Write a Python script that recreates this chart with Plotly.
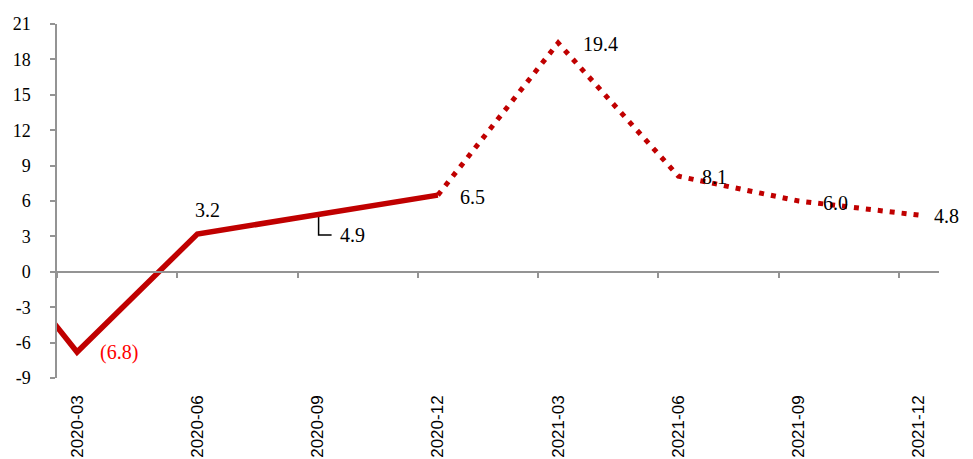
import plotly.graph_objects as go

# ---- data ----
categories = ["2020-03", "2020-06", "2020-09", "2020-12",
              "2021-03", "2021-06", "2021-09", "2021-12"]
prev_category = "2019-12"
actual_cats = ["2019-12", "2020-03", "2020-06", "2020-09", "2020-12"]
actual_vals = [6.0, -6.8, 3.2, 4.9, 6.5]
forecast_cats = ["2020-12", "2021-03", "2021-06", "2021-09", "2021-12"]
forecast_vals = [6.5, 19.4, 8.1, 6.0, 4.8]
label_texts = {"2020-03": "(6.8)", "2020-06": "3.2", "2020-09": "4.9",
               "2020-12": "6.5", "2021-03": "19.4", "2021-06": "8.1",
               "2021-09": "6.0", "2021-12": "4.8"}
label_values = {"2020-03": -6.8, "2020-06": 3.2, "2020-09": 4.9,
                "2020-12": 6.5, "2021-03": 19.4, "2021-06": 8.1,
                "2021-09": 6.0, "2021-12": 4.8}
y_ticks = list(range(-9, 22, 3))
y_tick_text = [str(v) for v in y_ticks]

# month-based positions: each quarter-end month point sits mid-month
all_cats = [prev_category] + categories
def pos(cat):
    return (all_cats.index(cat) - 1) * 3 + 0.5

tick_marks = [i * 3 for i in range(len(categories))]
x_range = [0, len(categories) * 3 - 2]
y_range = [-9, 21]

RED = "#C00000"
GREY = "#949494"
SERIF = "Liberation Serif"
SANS = "Liberation Sans"

fig = go.Figure()
fig.add_trace(go.Scatter(
    x=[pos(c) for c in actual_cats], y=actual_vals, mode="lines",
    line=dict(color=RED, width=5.5), xaxis="x", yaxis="y",
    showlegend=False, hoverinfo="skip"))
fig.add_trace(go.Scatter(
    x=[pos(c) for c in forecast_cats], y=forecast_vals, mode="lines",
    line=dict(color=RED, width=5, dash="5px,7px"), xaxis="x2", yaxis="y",
    showlegend=False, hoverinfo="skip"))

# label offsets (pixels) — style only
offsets = {"2020-03": (42, 0), "2020-06": (10, 24), "2020-09": (35, -21),
           "2020-12": (35, -2), "2021-03": (42, -1), "2021-06": (36, -1),
           "2021-09": (37, -2), "2021-12": (28, -1)}
annotations = []
for c in categories:
    dx, dy = offsets[c]
    color = "#FF0000" if label_values[c] < 0 else "black"
    annotations.append(dict(
        x=pos(c), y=label_values[c], xref="x", yref="y",
        text=label_texts[c], showarrow=False, xanchor="center", yanchor="middle",
        xshift=dx, yshift=dy, font=dict(family=SERIF, size=20, color=color)))

shapes = [dict(
    type="path", xref="x", yref="y", xsizemode="pixel", ysizemode="pixel",
    xanchor=pos("2020-09"), yanchor=label_values["2020-09"],
    path="M1,0 V-21 H14", line=dict(color="black", width=1.5), layer="below")]

zero_frac = (0 - y_range[0]) / (y_range[1] - y_range[0])

fig.update_layout(
    width=973, height=459, autosize=False,
    margin=dict(l=57, r=34, t=24, b=81, pad=0),
    paper_bgcolor="white", plot_bgcolor="white",
    xaxis=dict(range=x_range, anchor="free", position=zero_frac,
               showline=True, linecolor=GREY, linewidth=1.5,
               ticks="outside", tickvals=tick_marks, ticklen=5,
               tickcolor=GREY, tickwidth=1.5, automargin=False,
               showticklabels=False, showgrid=False, zeroline=False),
    xaxis2=dict(range=x_range, overlaying="x", anchor="y", side="bottom",
                tickmode="array", tickvals=[pos(c) for c in categories],
                ticktext=categories, tickangle=-90, ticks="",
                ticklabelstandoff=13, automargin=False,
                showline=False, showgrid=False, zeroline=False,
                tickfont=dict(family=SANS, size=17, color="black")),
    yaxis=dict(range=y_range, tickmode="array", tickvals=y_ticks,
               ticktext=y_tick_text, automargin=False,
               ticks="outside", ticklen=5, tickcolor=GREY, tickwidth=1.5,
               ticklabelstandoff=16,
               showline=True, linecolor=GREY, linewidth=1.5,
               showgrid=False, zeroline=False,
               tickfont=dict(family=SERIF, size=18, color="black")),
    annotations=annotations, shapes=shapes,
)

fig.write_html("out.html")
